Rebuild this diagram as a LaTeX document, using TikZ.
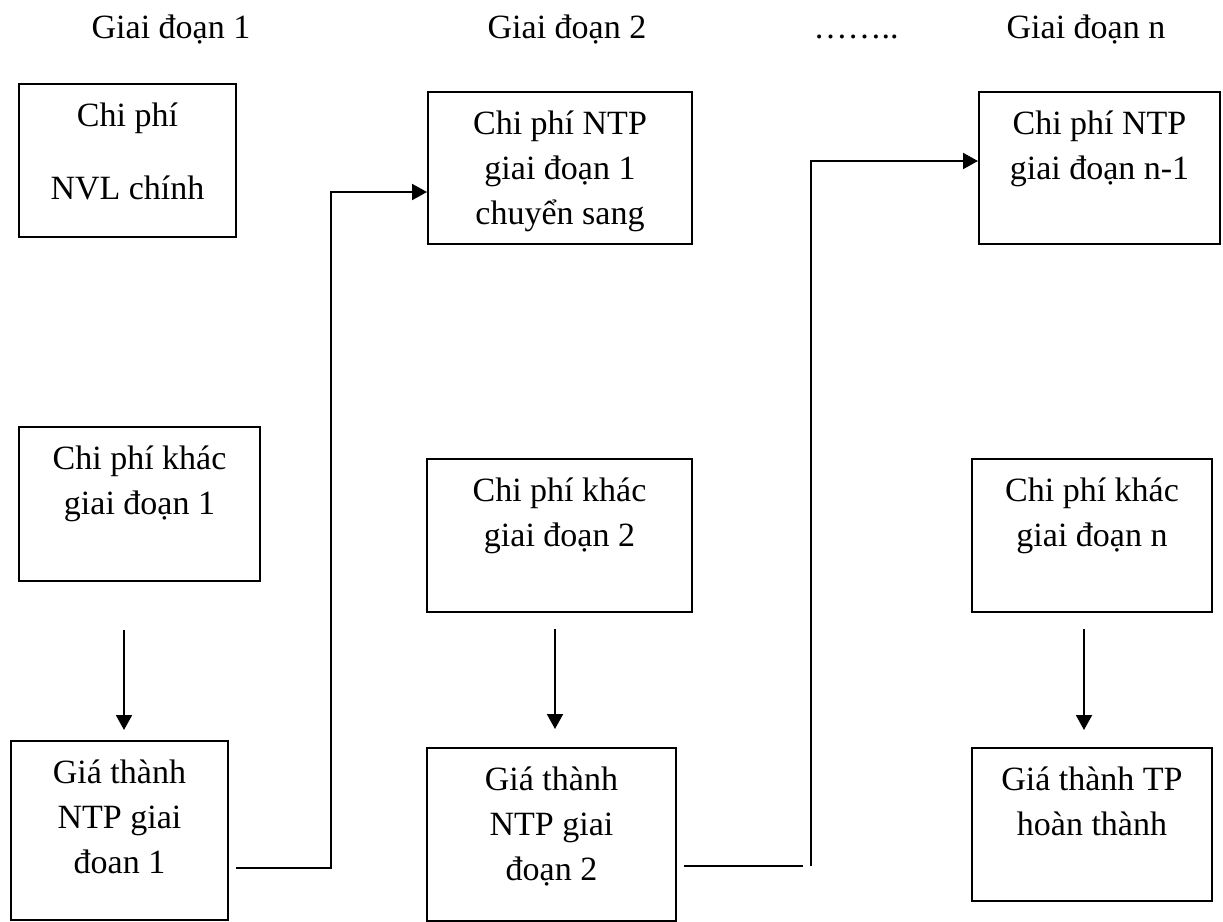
\documentclass[tikz,border=0pt]{standalone}
\usepackage{fontspec}
\setmainfont{Liberation Serif}
\usepackage{tikz}
\usetikzlibrary{arrows.meta}
\tikzset{
	cost/.style 2 args={
		draw, rectangle, line width=1pt,
		anchor=north west, inner sep=0pt,
		text width=#1, align=flush center,
		text height=21pt, text depth=#2
	},
	stage/.style={anchor=base},
	flow/.style={
		line width=1pt, -{Triangle[length=7.5pt,width=8pt]}
	},
	plain/.style={line width=1pt}
}

\begin{document}
\begin{tikzpicture}[x=0.5pt, y=-0.5pt, font=\fontsize{17}{22.5}\selectfont]
	\useasboundingbox (0,0) rectangle (1223,922);

	% stage headings
	\node[stage] (Stage-1) at (171,38) {Giai đoạn 1};
	\node[stage] (Stage-2) at (567,38) {Giai đoạn 2};
	\node[stage] (Stage-dots) at (856,38) {……..};
	\node[stage] (Stage-n) at (1086,38) {Giai đoạn n};

	% top row
	\node[cost={108.5pt}{55.5pt}] (NVL) at (18,83) {Chi phí\\[14pt]NVL chính};
	\node[cost={132pt}{55pt}] (NTP-1) at (427,91) {Chi phí NTP\\giai đoạn 1\\chuyển sang};
	\node[cost={120.5pt}{55pt}] (NTP-n1) at (978,91) {Chi phí NTP\\giai đoạn n-1};

	% middle row
	\node[cost={120.5pt}{56pt}] (Khac-1) at (18,426) {Chi phí khác\\giai đoạn 1};
	\node[cost={132.5pt}{55.5pt}] (Khac-2) at (426,458) {Chi phí khác\\giai đoạn 2};
	\node[cost={120pt}{55.5pt}] (Khac-n) at (971,458) {Chi phí khác\\giai đoạn n};

	% bottom row
	\node[cost={108.5pt}{68.5pt}] (Gia-1) at (10,740) {Giá thành\\NTP giai\\đoan 1};
	\node[cost={124.5pt}{65.5pt}] (Gia-2) at (426,747) {Giá thành\\NTP giai\\đoạn 2};
	\node[cost={120pt}{55.5pt}] (Gia-n) at (971,747) {Giá thành TP\\hoàn thành};

	% costs into each stage
	\draw[flow] ([xshift=-7.75pt,yshift=-24pt]Khac-1.south) -- ([xshift=2.25pt,yshift=5pt]Gia-1.north);
	\draw[flow] ([xshift=-2.25pt,yshift=-8pt]Khac-2.south) -- ([xshift=1.75pt,yshift=9pt]Gia-2.north);
	\draw[flow] ([xshift=-4pt,yshift=-8pt]Khac-n.south) -- ([xshift=-4pt,yshift=8.5pt]Gia-n.north);

	% carried over to the next stage
	\coordinate (g1up) at (331,192);
	\draw[flow] ([xshift=3.5pt,yshift=26.5pt]Gia-1.south east) -| (g1up) -- (g1up -| NTP-1.west);
	\coordinate (g2out) at (682,866);
	\coordinate (g2end) at (803,866);
	\coordinate (g2up) at (811,161);
	\draw[plain] (g2out -| Gia-2.east) ++(3.5pt,0) -- (g2end);
	\draw[flow] (g2up |- g2end) -- (g2up) -- (g2up -| NTP-n1.west);
\end{tikzpicture}
\end{document}
